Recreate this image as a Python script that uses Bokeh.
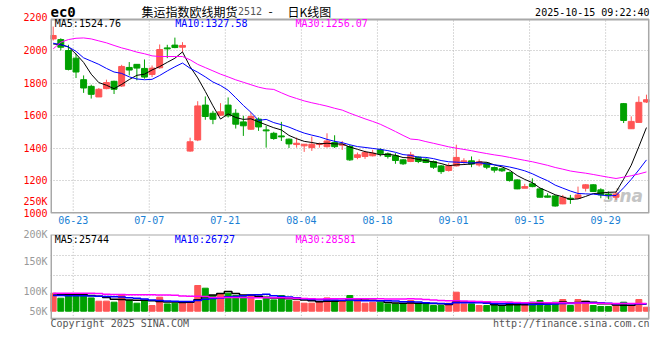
from bokeh.plotting import figure
from bokeh.models import Range1d, FixedTicker, Label, ColumnDataSource
from bokeh.layouts import column
from bokeh.embed import file_html
from bokeh.resources import INLINE

# ---------------- data ----------------
dates = ["06-18", "06-19", "06-20", "06-23", "06-24", "06-25", "06-26", "06-27", "06-30",
         "07-01", "07-02", "07-03", "07-04", "07-07", "07-08", "07-09", "07-10", "07-11",
         "07-14", "07-15", "07-16", "07-17", "07-18", "07-21", "07-22", "07-23", "07-24",
         "07-25", "07-28", "07-29", "07-30", "07-31", "08-01", "08-04", "08-05", "08-06",
         "08-07", "08-08", "08-11", "08-12", "08-13", "08-14", "08-15", "08-18", "08-19",
         "08-20", "08-21", "08-22", "08-25", "08-26", "08-27", "08-28", "08-29", "09-01",
         "09-02", "09-03", "09-04", "09-05", "09-08", "09-09", "09-10", "09-11", "09-12",
         "09-15", "09-16", "09-17", "09-18", "09-19", "09-22", "09-23", "09-24", "09-25",
         "09-26", "09-29", "09-30", "10-09", "10-10", "10-13", "10-14"]

opens = [2071, 2067, 2000, 1953, 1821, 1780, 1715, 1766, 1811, 1782,
         1896, 1915, 1890, 1853, 1894, 2016, 2033, 2020, 1383, 1451,
         1665, 1615, 1603, 1665, 1615, 1562, 1517, 1579, 1513, 1492,
         1476, 1456, 1423, 1415, 1404, 1423, 1410, 1435, 1419, 1411,
         1344, 1350, 1354, 1391, 1366, 1354, 1329, 1319, 1346, 1333,
         1319, 1292, 1264, 1292, 1315, 1323, 1298, 1309, 1282, 1274,
         1251, 1206, 1155, 1182, 1151, 1108, 1108, 1059, 1094, 1094,
         1155, 1176, 1145, 1118, 1100, 1674, 1520, 1559, 1684]
highs = [2147, 2075, 2035, 1980, 1847, 1790, 1770, 1821, 1815, 1912,
         1929, 1915, 1945, 1908, 2037, 2035, 2079, 2051, 1465, 1689,
         1718, 1630, 1677, 1712, 1640, 1599, 1620, 1589, 1538, 1501,
         1562, 1460, 1466, 1425, 1472, 1435, 1492, 1480, 1445, 1421,
         1374, 1385, 1391, 1401, 1374, 1370, 1333, 1378, 1350, 1339,
         1325, 1298, 1309, 1422, 1339, 1350, 1333, 1313, 1288, 1280,
         1257, 1210, 1182, 1216, 1155, 1124, 1112, 1114, 1114, 1165,
         1180, 1180, 1155, 1135, 1135, 1678, 1596, 1719, 1729]
lows = [2061, 2000, 1878, 1831, 1740, 1705, 1715, 1762, 1733, 1776,
        1847, 1817, 1827, 1837, 1888, 1953, 2014, 1990, 1379, 1444,
        1575, 1548, 1599, 1589, 1521, 1476, 1513, 1507, 1404, 1452,
        1445, 1402, 1404, 1378, 1384, 1404, 1404, 1402, 1390, 1323,
        1333, 1335, 1350, 1350, 1337, 1305, 1298, 1315, 1309, 1309,
        1274, 1243, 1257, 1288, 1305, 1284, 1288, 1272, 1251, 1255,
        1196, 1149, 1155, 1161, 1098, 1098, 1042, 1057, 1059, 1090,
        1135, 1133, 1094, 1087, 1083, 1555, 1520, 1559, 1678]
closes = [2092, 2020, 1884, 1868, 1770, 1731, 1762, 1803, 1762, 1902,
          1880, 1892, 1837, 1892, 2006, 2010, 2018, 2031, 1440, 1660,
          1595, 1578, 1624, 1599, 1548, 1538, 1595, 1531, 1507, 1460,
          1470, 1427, 1431, 1425, 1425, 1429, 1445, 1410, 1425, 1329,
          1360, 1374, 1370, 1366, 1350, 1325, 1305, 1360, 1319, 1313,
          1284, 1257, 1294, 1344, 1323, 1303, 1317, 1284, 1266, 1262,
          1202, 1151, 1165, 1165, 1100, 1100, 1046, 1100, 1087, 1114,
          1176, 1135, 1114, 1112, 1120, 1571, 1565, 1682, 1698]
volumes = [65700, 47500, 63100, 63400, 62800, 48500, 36500, 36800, 32900, 61000,
           39100, 29200, 39300, 20800, 51100, 26600, 29200, 29500, 29000, 93800,
           84000, 57300, 61000, 65700, 57500, 53700, 57300, 39100, 48500, 41200,
           57300, 39100, 36500, 29200, 29400, 36500, 48500, 39100, 39300, 57300,
           39100, 29200, 32900, 32700, 26600, 26800, 26500, 39100, 26600, 26700,
           20800, 20900, 29200, 69400, 26600, 26800, 20800, 20700, 20900, 20800,
           32900, 20800, 20900, 32900, 39100, 20800, 32900, 42700, 20800, 42700,
           36500, 20800, 17200, 17300, 20800, 32900, 20800, 42700, 14600]

# moving-average values for the days before a full window exists
ma5_head = [2040, 2036, 2022, 1978]
ma10_head = [2045, 2035, 2022, 1995, 1955, 1935, 1915, 1890, 1868]
ma30_head = [2010, 2051, 2067, 2075, 2077, 2071, 2059, 2047, 2031, 2016,
             2004, 1990, 1980, 1967, 1963, 1963, 1963, 1963, 1943, 1915,
             1895, 1875, 1855, 1838, 1820, 1805, 1790, 1775, 1765]
vma5_head = [58000, 60000, 60500, 61000]
vma10_head = [57000, 57000, 56500, 56000, 56000, 55500, 54500, 53500, 52500]
vma30_head = [65700, 65700, 65600, 65500, 65400, 65200, 64800, 61500, 61200, 61000,
              60500, 60200, 60000, 59800, 59500, 59000, 58500, 55500, 55000, 54500,
              54000, 50500, 50300, 50000, 49800, 49600, 49400, 49200, 49100]

price_ticks = [1000, 1200, 1400, 1600, 1800, 2000, 2200]
price_grid = [1200, 1400, 1600, 1800, 2000]
price_box = [1000, 2190]
stray_tick = 1075.5        # where the volume panel's "250K" label lands in the original
stray_label = "250K"
tick_dates = ["06-23", "07-07", "07-21", "08-04", "08-18", "09-01", "09-15", "09-29"]
vol_tick_values = [0, 73000, 182500, 279000]
vol_tick_labels = ["50K", "100K", "150K", "200K"]
vol_grid = [57300, 130300, 203300]
vol_box = [-27700, 279900]

title_main = "集运指数欧线期货"
title_code = "2512"
title_tail = "日K线图"
symbol = "ec0"
stamp = "2025-10-15 09:22:40"
ma_price_text = ["MA5:1524.76", "MA10:1327.58", "MA30:1256.07"]
ma_vol_text = ["MA5:25744", "MA10:26727", "MA30:28581"]

# ---------------- derived ----------------
n = len(dates)
idx = list(range(n))


def moving(vals, k, head):
    out = list(head)
    for i in range(k - 1, len(vals)):
        out.append(sum(vals[i - k + 1:i + 1]) / k)
    return out


ma5 = moving(closes, 5, ma5_head)
ma10 = moving(closes, 10, ma10_head)
ma30 = moving(closes, 30, ma30_head)
vma5 = moving(volumes, 5, vma5_head)
vma10 = moving(volumes, 10, vma10_head)
vma30 = moving(volumes, 30, vma30_head)

UP = "#ff5555"
DOWN = "#00a000"
colors = [UP if c >= o else DOWN for o, c in zip(opens, closes)]
src = ColumnDataSource(dict(
    x=idx, o=opens, h=highs, l=lows, c=closes,
    top=[max(o, c) for o, c in zip(opens, closes)],
    bot=[min(o, c) for o, c in zip(opens, closes)],
    vol=volumes, color=colors,
))

tick_pos = [dates.index(d) - 0.37 for d in tick_dates]
MONO = "DejaVu Sans Mono"
GRID = "#b4b4b4"
BORDER = "#a8a8a8"
X0, X1 = -0.355, 78.4
INSET = 0.07


def style_axis(ax, color, standoff):
    ax.axis_line_color = None
    ax.major_tick_line_color = None
    ax.minor_tick_line_color = None
    ax.major_tick_out = 0
    ax.major_tick_in = 0
    ax.minor_tick_out = 0
    ax.major_label_text_color = color
    ax.major_label_text_font = MONO
    ax.major_label_text_font_size = "10px"
    ax.major_label_standoff = standoff


def lab(p, x, y, text, color="#000000", size="10px", font=MONO, align="left",
        baseline="middle", style="normal", level="annotation"):
    p.add_layout(Label(x=x, y=y, x_units="screen", y_units="screen", text=text,
                       text_font=font, text_font_size=size, text_color=color,
                       text_align=align, text_baseline=baseline, text_font_style=style,
                       level=level))


# ---------------- price panel (frame runs to the canvas top; box drawn explicitly) ----------------
xr = Range1d(X0, X1)
p1 = figure(width=655, height=228, x_range=xr, y_range=Range1d(1000, 2306.7),
            output_backend="svg", toolbar_location=None,
            min_border_left=50, min_border_right=6, min_border_top=0, min_border_bottom=15)
p1.title.visible = False
p1.outline_line_color = None

style_axis(p1.yaxis[0], "#ff0000", 3)
p1.yaxis.ticker = FixedTicker(ticks=price_ticks + [stray_tick])
p1.yaxis.major_label_overrides = {stray_tick: stray_label}
style_axis(p1.xaxis[0], "#1a7fd4", 2)
p1.xaxis.ticker = FixedTicker(ticks=tick_pos)
p1.xaxis.major_label_overrides = {t: d for t, d in zip(tick_pos, tick_dates)}

p1.ygrid.ticker = FixedTicker(ticks=price_grid)
p1.ygrid.grid_line_color = GRID
p1.ygrid.grid_line_dash = "1 2"
p1.xgrid.grid_line_color = None
p1.segment(x0=tick_pos, y0=[price_box[0]] * len(tick_pos), x1=tick_pos,
           y1=[price_box[1]] * len(tick_pos), line_color=GRID, line_dash="1 2", line_width=1)

lab(p1, 553, 8, "sina", color="#c4c4c4", size="17px", font="DejaVu Sans",
    style="bold italic", baseline="bottom", level="underlay")

p1.segment(x0="x", y0="l", x1="x", y1="h", color="color", line_width=1, source=src)
p1.vbar(x="x", width=0.78, top="top", bottom="bot", fill_color="color",
        line_color="color", line_width=1, source=src)
p1.line(idx, ma5, color="#000000", line_width=1)
p1.line(idx, ma10, color="#0000ff", line_width=1)
p1.line(idx, ma30, color="#ff00ff", line_width=1)
p1.quad(left=X0 + INSET, right=X1 - INSET, bottom=price_box[0] + 3, top=price_box[1],
        fill_color=None, line_color=BORDER, line_width=2)

# header (screen units measured from the frame's lower-left corner, frame bottom = 213px)
lab(p1, 0, 201.3, symbol, size="14px", style="bold")
lab(p1, 91, 202.5, title_main, size="12px", font="Noto Sans CJK SC")
lab(p1, 187.5, 203, title_code, color="#555555", size="10px")
lab(p1, 218, 202.5, "-", size="12px", font="Noto Sans CJK SC")
lab(p1, 237, 202.5, title_tail, size="12px", font="Noto Sans CJK SC")
lab(p1, 599, 201.3, stamp, align="right")
# legend
lab(p1, 4.3, 189.7, ma_price_text[0], color="#000000")
lab(p1, 124.7, 189.7, ma_price_text[1], color="#0000ff")
lab(p1, 245, 189.7, ma_price_text[2], color="#ff00ff")

# ---------------- volume panel (frame runs to the canvas bottom) ----------------
p2 = figure(width=655, height=102, x_range=xr, y_range=Range1d(-70400, 280000),
            output_backend="svg", toolbar_location=None,
            min_border_left=50, min_border_right=6, min_border_top=6, min_border_bottom=0)
p2.title.visible = False
p2.outline_line_color = None
p2.xaxis.visible = False
style_axis(p2.yaxis[0], "#999999", 3)
p2.yaxis.ticker = FixedTicker(ticks=vol_tick_values)
p2.yaxis.major_label_overrides = {v: t for v, t in zip(vol_tick_values, vol_tick_labels)}
p2.ygrid.ticker = FixedTicker(ticks=vol_grid)
p2.ygrid.grid_line_color = GRID
p2.ygrid.grid_line_dash = "1 2"
p2.xgrid.grid_line_color = None
p2.segment(x0=tick_pos, y0=[vol_box[0]] * len(tick_pos), x1=tick_pos,
           y1=[vol_box[1]] * len(tick_pos), line_color=GRID, line_dash="1 2", line_width=1)

p2.vbar(x="x", width=0.78, top="vol", bottom=0, fill_color="color", line_color="color",
        line_width=1, source=src)
p2.step(idx, vma5, mode="center", color="#000000", line_width=1.5)
p2.step(idx, vma10, mode="center", color="#0000ff", line_width=1.5)
p2.step(idx, vma30, mode="center", color="#ff00ff", line_width=1.5)
p2.quad(left=X0 + INSET, right=X1 - INSET, bottom=vol_box[0], top=vol_box[1],
        fill_color=None, line_color=BORDER, line_width=2)

lab(p2, 4.3, 91.5, ma_vol_text[0], color="#000000")
lab(p2, 124.3, 91.5, ma_vol_text[1], color="#0000ff")
lab(p2, 245, 91.5, ma_vol_text[2], color="#ff00ff")
lab(p2, 0, 6.7, "Copyright 2025 SINA.COM", color="#555555")
lab(p2, 599, 6.7, "http://finance.sina.com.cn", color="#555555", align="right")

layout = column(p1, p2, spacing=0)
open("out.html", "w").write(file_html(layout, INLINE))
